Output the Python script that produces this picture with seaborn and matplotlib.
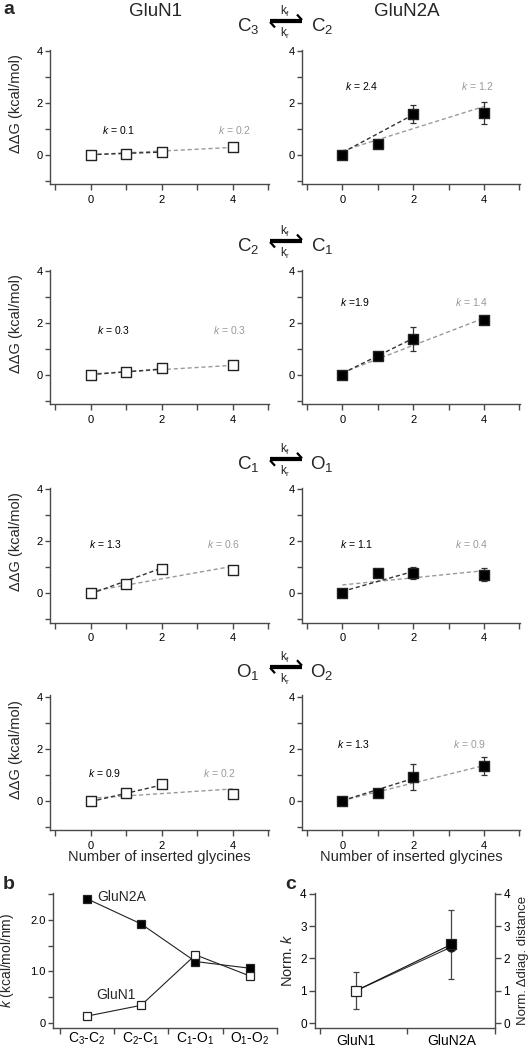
import numpy as np
import pandas as pd
import matplotlib
matplotlib.use("Agg")
import matplotlib.pyplot as plt
from matplotlib.lines import Line2D
import seaborn as sns

# ---------------- data ----------------
glycines = [0, 1, 2, 4]
schemes = [("C$_3$", "C$_2$"), ("C$_2$", "C$_1$"), ("C$_1$", "O$_1$"), ("O$_1$", "O$_2$")]

glun1_ddg = [[0.0, 0.04, 0.09, 0.30],
             [0.0, 0.09, 0.24, 0.36],
             [0.0, 0.35, 0.91, 0.87],
             [0.0, 0.28, 0.64, 0.27]]
glun2a_ddg = [[0.0, 0.41, 1.57, 1.61],
              [0.0, 0.73, 1.38, 2.12],
              [0.0, 0.77, 0.77, 0.71],
              [0.0, 0.28, 0.90, 1.33]]
glun2a_err = [[0.0, 0.0, 0.35, 0.44],
              [0.0, 0.0, 0.47, 0.12],
              [0.0, 0.0, 0.24, 0.25],
              [0.0, 0.0, 0.50, 0.36]]

# fitted lines read at x=0 and x=2 (short, black) / x=0 and x=4 (long, grey)
fit_short_x = [0, 2]
fit_long_x = [0, 4]
glun1_fit_short = [[0.0, 0.10], [0.0, 0.22], [-0.03, 0.96], [-0.04, 0.60]]
glun1_fit_long = [[0.0, 0.28], [0.03, 0.36], [0.06, 1.03], [0.09, 0.45]]
glun2a_fit_short = [[0.08, 1.54], [0.05, 1.40], [0.06, 0.83], [0.0, 0.85]]
glun2a_fit_long = [[0.15, 1.86], [0.08, 2.18], [0.31, 0.86], [0.0, 1.35]]

glun1_k_short = ["0.1", "0.3", "1.3", "0.9"]
glun1_k_long = ["0.2", "0.3", "0.6", "0.2"]
glun2a_k_short = ["2.4", "1.9", "1.1", "1.3"]
glun2a_k_long = ["1.2", "1.4", "0.4", "0.9"]
glun2a_k_sep = [" = ", " =", " = ", " = "]

# panel b
transitions = ["C$_3$-C$_2$", "C$_2$-C$_1$", "C$_1$-O$_1$", "O$_1$-O$_2$"]
k_glun2a = [2.41, 1.92, 1.19, 1.06]
k_glun1 = [0.13, 0.34, 1.32, 0.91]
k_ticklabels = ["0", "1.0", "2.0"]

# panel c
subunits = ["GluN1", "GluN2A"]
norm_k = [1.0, 2.43]
norm_k_err = [0.57, 1.07]
norm_diag = [1.0, 2.35]

# ---------------- style ----------------
sns.set_style("ticks")
plt.rcParams["font.family"] = ["Liberation Sans", "DejaVu Sans"]
plt.rcParams["mathtext.fontset"] = "custom"
plt.rcParams["mathtext.rm"] = "Liberation Sans"
plt.rcParams["mathtext.it"] = "Liberation Sans:italic"
plt.rcParams["mathtext.bf"] = "Liberation Sans:bold"

AX = "#4a4a4a"
GREY = "#9a9a9a"
W, H = 528, 1050
fig = plt.figure(figsize=(W / 100, H / 100), dpi=100)


def rect(l, r, t, b):
    return [l / W, 1 - b / H, (r - l) / W, (b - t) / H]


def style_axes(ax):
    for s in ["top", "right"]:
        ax.spines[s].set_visible(False)
    for s in ["left", "bottom"]:
        ax.spines[s].set_color(AX)
        ax.spines[s].set_linewidth(1.0)
    ax.tick_params(which="both", colors=AX, labelcolor="black", width=1.0)
    ax.set_facecolor("none")


cols = [(50, 269), (302, 520)]
pix4 = [51, 271, 489.3, 696.7]
pix0 = [154.7, 374.7, 593, 800.7]
unit = 25.9

for r in range(4):
    top = pix4[r] - 0.05 * unit
    bot = pix0[r] + 1.15 * unit
    for c in range(2):
        ax = fig.add_axes(rect(cols[c][0], cols[c][1], top, bot))
        style_axes(ax)
        if c == 0:
            y = glun1_ddg[r]
            fs, fl = glun1_fit_short[r], glun1_fit_long[r]
        else:
            y = glun2a_ddg[r]
            fs, fl = glun2a_fit_short[r], glun2a_fit_long[r]
        sns.lineplot(x=fit_long_x, y=fl, ax=ax, color=GREY, lw=1.0,
                     linestyle=(0, (3, 2)), zorder=2, legend=False)
        sns.lineplot(x=fit_short_x, y=fs, ax=ax, color="#333333", lw=1.0,
                     linestyle=(0, (3, 2)), zorder=3, legend=False)
        if c == 1:
            ax.errorbar(glycines, y, yerr=glun2a_err[r], fmt="none",
                        ecolor="#333333", elinewidth=0.9, capsize=2.2,
                        capthick=0.9, zorder=4)
        sns.scatterplot(x=glycines, y=y, ax=ax, marker="s", s=52,
                        facecolor="white" if c == 0 else "black",
                        edgecolor="#222222", linewidth=1.0, zorder=5,
                        legend=False)
        ax.set_xlim(-1.14, 5.02)
        ax.set_ylim(-1.15, 4.05)
        ax.set_xticks([0, 2, 4])
        ax.set_xticks([-1, 1, 3, 5], minor=True)
        ax.set_yticks([0, 2, 4])
        ax.set_yticks([-1, 1, 3], minor=True)
        ax.tick_params(axis="x", which="both", length=4.5, pad=3, labelsize=8)
        ax.tick_params(axis="y", which="both", length=3.6, pad=1.5, labelsize=8)
        ax.set_xlabel("")
        ax.set_ylabel("")
        if c == 0:
            ks, kl = glun1_k_short[r], glun1_k_long[r]
            xs_pos = [0.32, 0.19, -0.05, -0.07][r]
            ypos = [0.95, 1.72, 1.88, 1.05][r]
            xl_pos = [4.52, 4.37, 4.2, 4.1][r]
            sep = " = "
            ax.set_ylabel("ΔΔG (kcal/mol)", fontsize=10.5)
            ax.yaxis.set_label_coords(-0.125, 0.6)
        else:
            ks, kl = glun2a_k_short[r], glun2a_k_long[r]
            xs_pos = [0.07, -0.08, -0.07, -0.16][r]
            ypos = [2.66, 2.82, 1.88, 2.18][r]
            xl_pos = [4.28, 4.12, 4.12, 4.05][r]
            sep = glun2a_k_sep[r]
        ax.text(xs_pos, ypos, "$k$" + sep + ks, fontsize=7.5, color="black",
                ha="left", va="center")
        ax.text(xl_pos, ypos, "$k$ = " + kl, fontsize=7.5, color=GREY,
                ha="right", va="center")
        if r == 3:
            ax.set_xlabel("Number of inserted glycines", fontsize=10.5)
            ax.xaxis.set_label_coords(0.5, -0.145)
            ax.xaxis.label.set_va("top")

    # reaction scheme above each row
    base = pix4[r] - 20  # baseline of C letters
    fig.text(248 / W, 1 - base / H, schemes[r][0], fontsize=13.5,
             ha="center", va="baseline")
    fig.text(322 / W, 1 - base / H, schemes[r][1], fontsize=13.5,
             ha="center", va="baseline")
    ly1 = base - 11
    ly2 = base - 9
    segs = [((270, ly1), (302, ly1)), ((297, ly1 - 5.5), (302, ly1)),
            ((270, ly2), (302, ly2)), ((270, ly2), (275, ly2 + 5.5))]
    for (x0, y0), (x1, y1) in segs:
        fig.add_artist(Line2D([x0 / W, x1 / W], [1 - y0 / H, 1 - y1 / H],
                              color="black", lw=1.6,
                              solid_capstyle="butt",
                              transform=fig.transFigure))
    fig.text(285 / W, 1 - (base - 16) / H, "k$_\\mathrm{f}$", fontsize=8.5,
             ha="center", va="baseline")
    fig.text(285 / W, 1 - (base + 6) / H, "k$_\\mathrm{r}$", fontsize=8.5,
             ha="center", va="baseline")

fig.text(155 / W, 1 - 12 / H, "GluN1", fontsize=13.5, ha="center", va="center")
fig.text(407 / W, 1 - 12 / H, "GluN2A", fontsize=13.5, ha="center", va="center")

# ---------------- panel b ----------------
axb = fig.add_axes(rect(53, 277, 893, 1028))
style_axes(axb)
xpos = np.arange(len(transitions))
sns.lineplot(x=xpos, y=k_glun2a, ax=axb, color="#222222", lw=0.8,
             marker="s", markersize=6, markerfacecolor="black",
             markeredgecolor="#222222", markeredgewidth=0.9, zorder=3,
             legend=False)
sns.lineplot(x=xpos, y=k_glun1, ax=axb, color="#222222", lw=0.8,
             marker="s", markersize=6, markerfacecolor="white",
             markeredgecolor="#222222", markeredgewidth=0.9, zorder=4,
             legend=False)
axb.set_xlim(-0.62, 3.5)
axb.set_ylim(-0.1, 2.52)
axb.set_xticks(xpos)
axb.set_xticklabels(transitions, fontsize=10)
axb.set_xticks([-0.5, 0.5, 1.5, 2.5, 3.5], minor=True)
axb.tick_params(axis="x", which="major", length=0, pad=2)
axb.tick_params(axis="x", which="minor", length=4)
axb.set_yticks([0, 1, 2])
axb.set_yticklabels(k_ticklabels, fontsize=8)
axb.set_yticks([0.5, 1.5, 2.5], minor=True)
axb.tick_params(axis="y", which="both", length=3.6, pad=1.5)
axb.set_xlabel("")
axb.set_ylabel("$k$ (kcal/mol/nm)", fontsize=10)
axb.yaxis.set_label_coords(-0.165, 0.5)
axb.text(0.19, 2.44, "GluN2A", fontsize=10, ha="left", va="center")
axb.text(0.17, 0.54, "GluN1", fontsize=10, ha="left", va="center")

# ---------------- panel c ----------------
axc = fig.add_axes(rect(315, 495, 893, 1028))
style_axes(axc)
sx = np.arange(len(subunits))
sns.lineplot(x=sx, y=norm_diag, ax=axc, color="#333333", lw=0.8,
             legend=False, zorder=2)
sns.lineplot(x=sx, y=norm_k, ax=axc, color="#111111", lw=0.8,
             legend=False, zorder=2)
axc.errorbar(sx, norm_k, yerr=norm_k_err, fmt="none", ecolor="#444444",
             elinewidth=0.9, capsize=2.5, capthick=0.9, zorder=3)
axc.plot(sx[0], norm_diag[0], "o", ms=6.5, mfc="white", mec="#222222",
         mew=0.9, zorder=4)
axc.plot(sx[1], norm_diag[1], "o", ms=6.5, mfc="black", mec="#222222",
         mew=0.9, zorder=4)
axc.plot(sx[0], norm_k[0], "s", ms=6.5, mfc="white", mec="#222222",
         mew=0.9, zorder=5)
axc.plot(sx[1], norm_k[1], "s", ms=6.5, mfc="black", mec="#222222",
         mew=0.9, zorder=5)
axc.set_xlim(-0.43, 1.46)
axc.set_ylim(-0.15, 4.02)
axc.set_xticks(sx)
axc.set_xticklabels(subunits, fontsize=10)
axc.set_xticks([-0.38, 0.54, 1.46], minor=True)
axc.tick_params(axis="x", which="major", length=0, pad=4)
axc.tick_params(axis="x", which="minor", length=4)
axc.set_yticks([0, 1, 2, 3, 4])
axc.tick_params(axis="y", which="both", length=4, pad=2, labelsize=8.5)
axc.set_ylabel("Norm. $k$", fontsize=10.5)
axc.yaxis.set_label_coords(-0.11, 0.5)
axc2 = axc.twinx()
for s in ["top", "left", "bottom"]:
    axc2.spines[s].set_visible(False)
axc2.spines["right"].set_color(AX)
axc2.spines["right"].set_linewidth(1.0)
axc2.set_ylim(-0.15, 4.02)
axc2.set_yticks([0, 1, 2, 3, 4])
axc2.tick_params(axis="y", which="both", length=4, pad=2, labelsize=8.5,
                 colors=AX, labelcolor="black", width=1.0)
axc2.set_ylabel("Norm. Δdiag. distance", fontsize=9.5)
axc2.yaxis.set_label_coords(1.12, 0.5)

# panel letters
fig.text(3 / W, 1 - 1 / H, "a", fontsize=14, fontweight="bold", va="top")
fig.text(3 / W, 1 - 876 / H, "b", fontsize=14, fontweight="bold", va="top")
fig.text(285 / W, 1 - 876 / H, "c", fontsize=14, fontweight="bold", va="top")

fig.savefig("out.png", dpi=100)
